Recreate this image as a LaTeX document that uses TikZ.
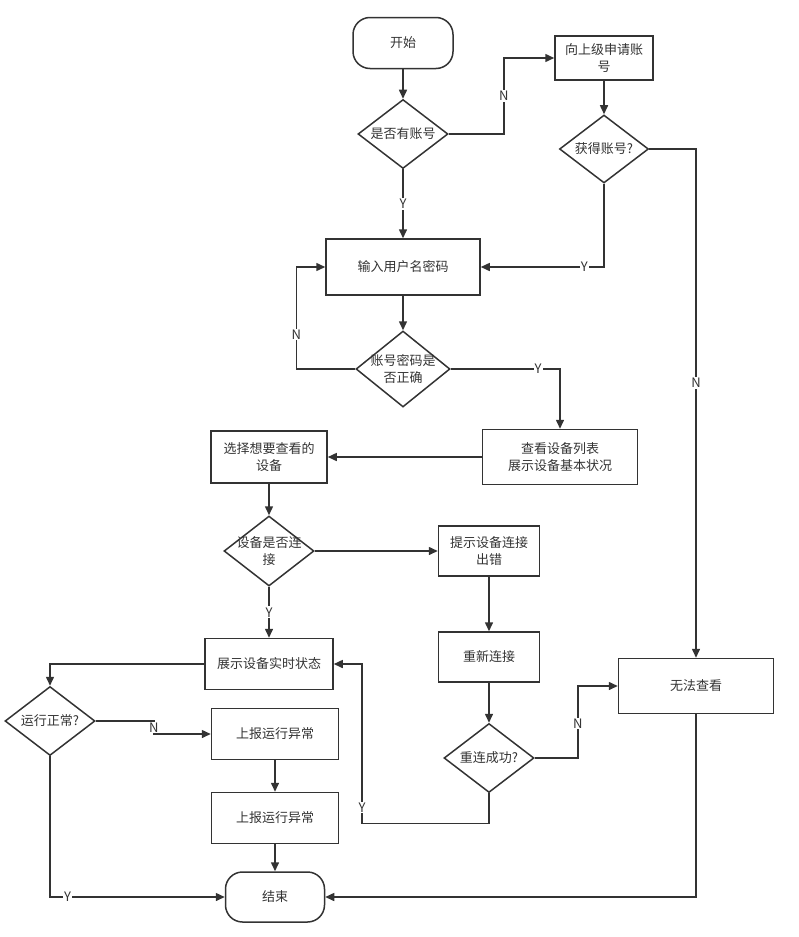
\documentclass[tikz,border=0pt]{standalone}
\usepackage{fontspec}
\setmainfont{Noto Sans CJK SC}
\usetikzlibrary{shapes.geometric,arrows.meta}
\definecolor{ink}{HTML}{333333}
\begin{document}
\begin{tikzpicture}[x=1pt,y=-1pt,line width=1.5pt,color=ink,
  font=\fontsize{13}{16.5}\selectfont,>={Triangle[length=9pt,width=8pt]},
  box/.style={draw,rectangle,align=center,inner sep=2pt},
  term/.style={draw,rectangle,rounded corners=17pt,minimum width=100pt,minimum height=51pt},
  dia/.style={draw,diamond,align=center,inner sep=-14pt,minimum width=90pt,minimum height=69pt},
  lbl/.style={fill=white,inner sep=1pt}]
\useasboundingbox (0,0) rectangle (799,937);
\node[term] (start) at (403,43) {开始};
\node[dia] (hasacc) at (403,134) {是否有账号};
\node[box,minimum width=98pt,minimum height=44pt] (apply) at (604,58) {向上级申请账\\号};
\node[dia,minimum width=89pt,minimum height=68pt] (got) at (604,149) {获得账号?};
\node[box,minimum width=154pt,minimum height=56pt] (login) at (403,267) {输入用户名密码};
\node[dia,minimum width=94pt,minimum height=76pt] (check) at (403,369) {账号密码是\\否正确};
\node[box,minimum width=155pt,minimum height=55pt] (list) at (560,457) {查看设备列表\\展示设备基本状况};
\node[box,minimum width=116pt,minimum height=52pt] (select) at (269,457) {选择想要查看的\\设备};
\node[dia,minimum height=70pt] (conn) at (269,551) {设备是否连\\接};
\node[box,minimum width=101pt,minimum height=50pt] (hint) at (489,551) {提示设备连接\\出错};
\node[box,minimum width=101pt,minimum height=50pt] (retry) at (489,657) {重新连接};
\node[dia] (reok) at (489,758) {重连成功?};
\node[box,minimum width=155pt,minimum height=55pt] (fail) at (696,686) {无法查看};
\node[box,minimum width=128pt,minimum height=51pt] (show) at (269,664) {展示设备实时状态};
\node[dia] (runok) at (50,721) {运行正常?};
\node[box,minimum width=127pt,minimum height=51pt] (rep1) at (275,734) {上报运行异常};
\node[box,minimum width=127pt,minimum height=51pt] (rep2) at (275,818) {上报运行异常};
\node[term,minimum width=99pt,minimum height=50pt] (end) at (275,897) {结束};
\draw[->] (start) to (hasacc);
\draw[->] (hasacc) to node[lbl]{Y} (login);
\draw[->] (hasacc.east) -- ++(55,0) |- node[lbl,pos=0.25]{N} (apply.west);
\draw[->] (apply) to (got);
\draw[->] (got.east) -| node[lbl,pos=0.73]{N} (fail.north);
\draw[->] (got.south) |- node[lbl,pos=0.58]{Y} (login.east);
\draw[->] (login) to (check);
\draw[->] (check.west) -- ++(-59,0) |- node[lbl,pos=0.17]{N} (login.west);
\draw[->] (check.east) -| node[lbl,pos=0.4]{Y} (list.north);
\draw[->] (list) to (select);
\draw[->] (select) to (conn);
\draw[->] (conn) to (hint);
\draw[->] (conn) to node[lbl]{Y} (show);
\draw[->] (hint) to (retry);
\draw[->] (retry) to (reok);
\draw[->] (reok.east) -- ++(43,0) |- node[lbl,pos=0.24]{N} (fail.west);
\draw[->] (reok.south) |- ++(-127,30) |- node[lbl,pos=0.05]{Y} (show.east);
\draw[->] (show.west) -| (runok.north);
\draw[->] (runok.east) -- ++(58,0) |- node[lbl,pos=0.25]{N} (rep1.west);
\draw[->] (rep1) to (rep2);
\draw[->] (rep2) to (end);
\draw[->] (runok.south) |- node[lbl,pos=0.55]{Y} (end.west);
\draw[->] (fail.south) |- (end.east);
\end{tikzpicture}
\end{document}
